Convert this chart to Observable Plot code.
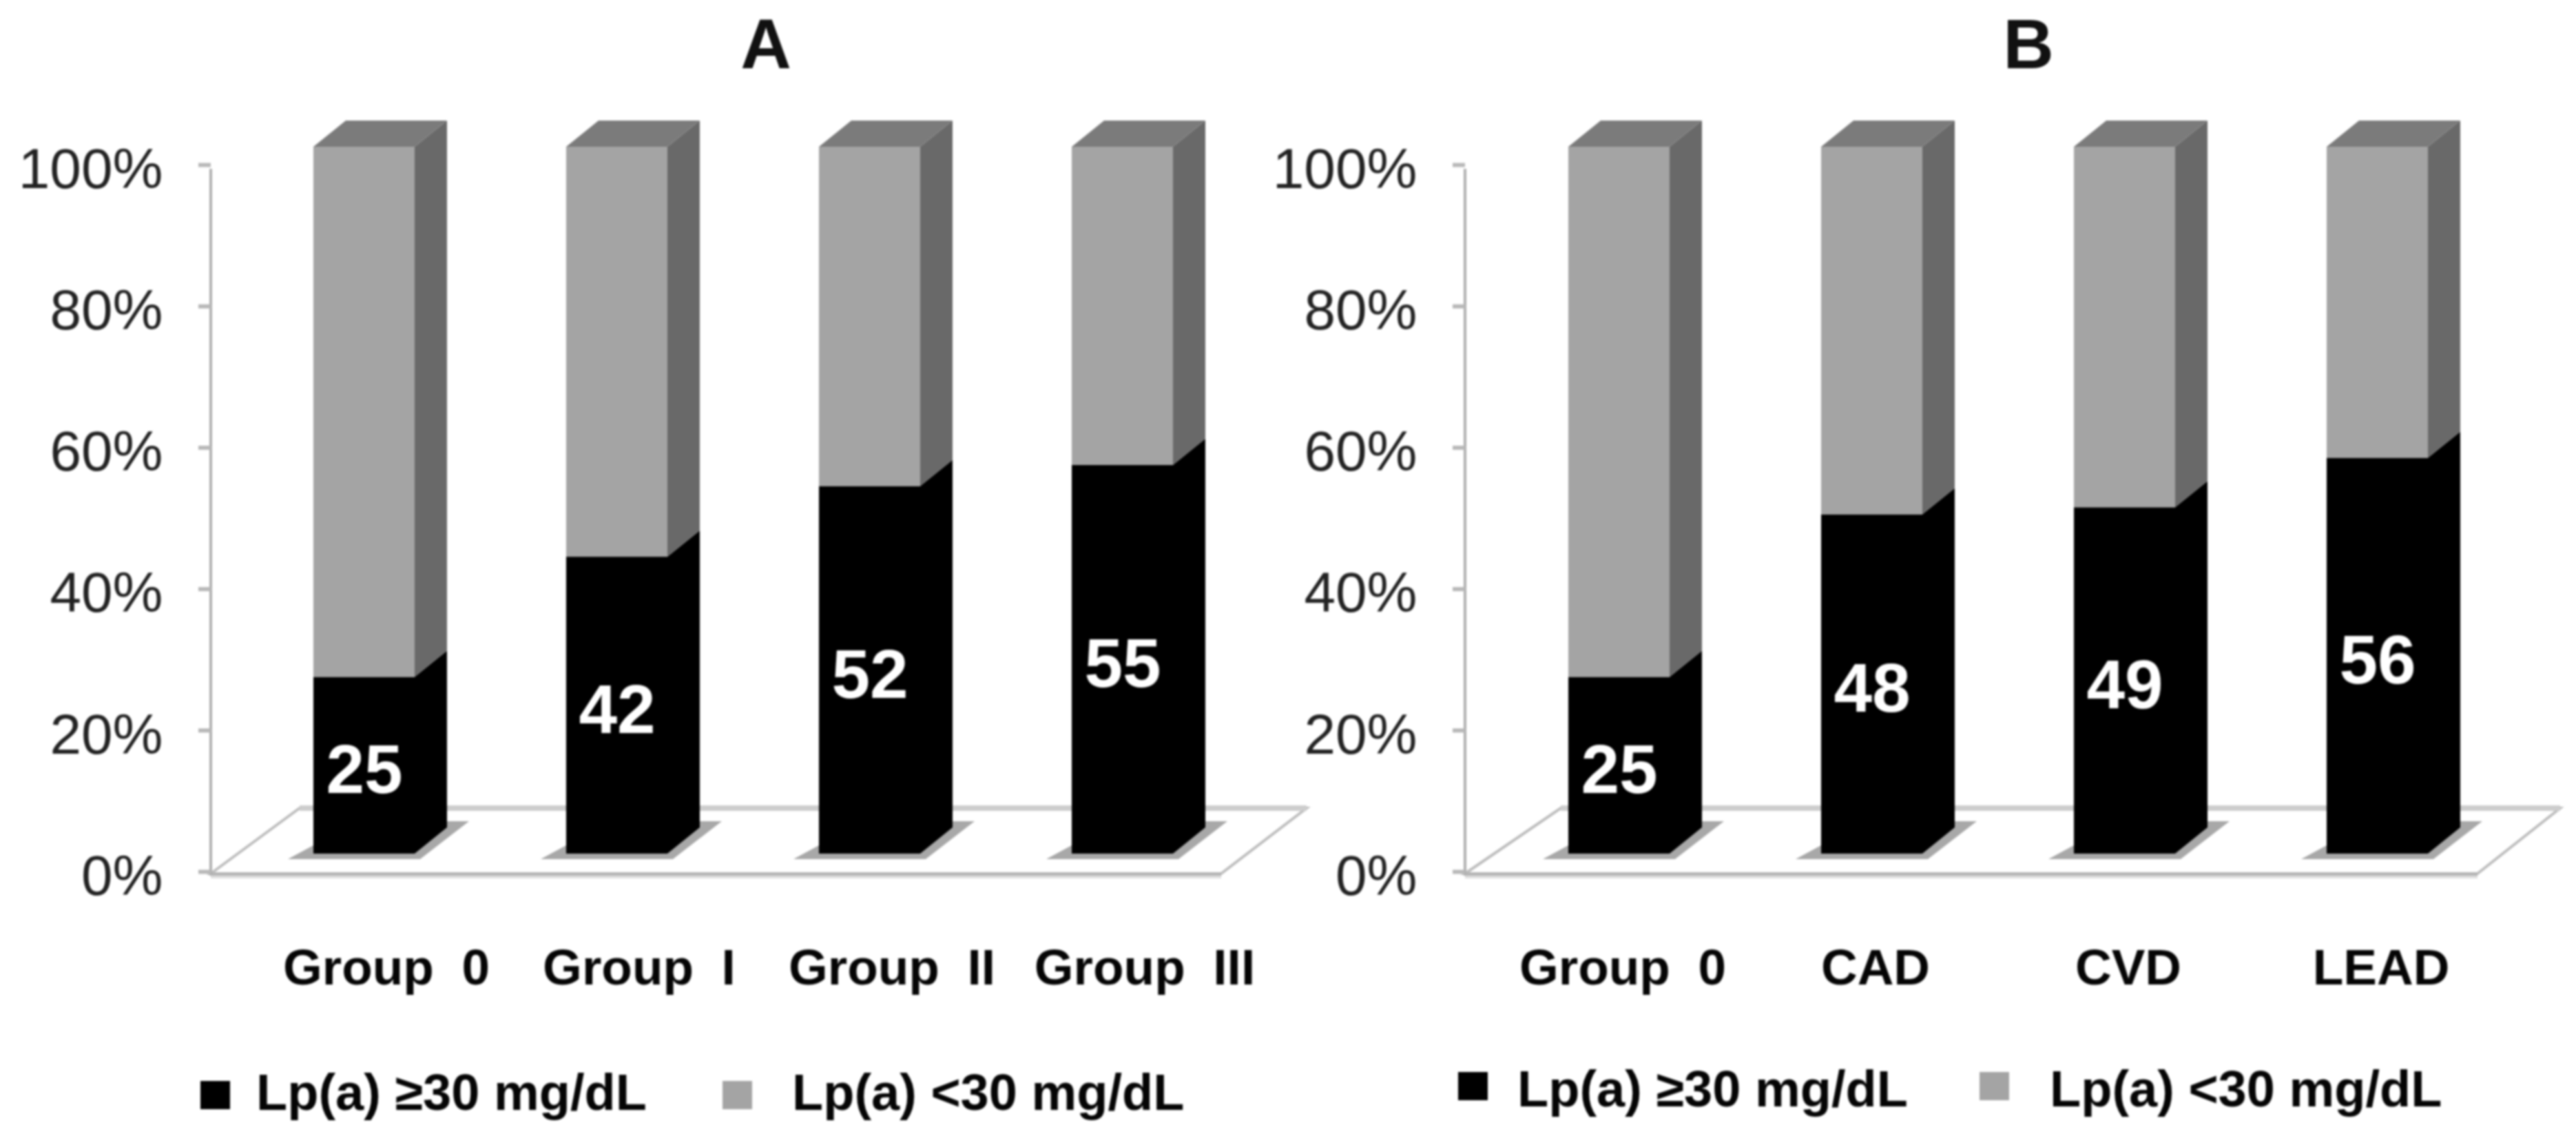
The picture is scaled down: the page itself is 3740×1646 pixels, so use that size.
<!DOCTYPE html>
<html><head><meta charset="utf-8">
<script src="https://cdn.jsdelivr.net/npm/d3@7"></script>
<script src="https://cdn.jsdelivr.net/npm/@observablehq/plot@0.6"></script>
<style>
html,body{margin:0;padding:0;background:#fff;overflow:hidden}
#stage{position:relative;width:3740px;height:1646px;font-family:"Liberation Sans",Arial,sans-serif;filter:blur(1.4px)}
#stage svg{position:absolute;left:0;top:0}
.ttl{position:absolute;font-weight:bold;font-size:102px;color:#111;transform:translate(-50%,-50%)}
.swatch{position:absolute;width:43px;height:41px}
.lg{position:absolute;font-weight:bold;font-size:74px;color:#050505;transform:translateY(-50%);white-space:pre}
</style></head><body><div id="stage"></div>
<script>
const seriesNames = ["Lp(a) ≥30 mg/dL", "Lp(a) <30 mg/dL"];
const panelTitles = ["A", "B"];
const categoriesA = ["Group  0", "Group  I", "Group  II", "Group  III"];
const valuesA = [25, 42, 52, 55];
const categoriesB = ["Group  0", "CAD", "CVD", "LEAD"];
const valuesB = [25, 48, 49, 56];
const yTicks = [0, 20, 40, 60, 80, 100];

const H = 1646, DX = 47, DY = 38;
const front = {"high": "#000000", "low": "#a4a4a4"};
const side = {"high": "#000000", "low": "#696969"};

function rows(cats, vals) {
  return cats.flatMap((c, i) => [
    {cat: c, s: "high", lo: 0, hi: vals[i]},
    {cat: c, s: "low", lo: vals[i], hi: 100}
  ]);
}
function swapRects(pointsOf) {
  return function (index, scales, values, dims, ctx, next) {
    const g = next(index, scales, values, dims, ctx);
    g.querySelectorAll("rect").forEach((r) => {
      const x = +r.getAttribute("x"), y = +r.getAttribute("y"),
            w = +r.getAttribute("width"), h = +r.getAttribute("height");
      const p = document.createElementNS("http://www.w3.org/2000/svg", "polygon");
      p.setAttribute("points", pointsOf(x, y, w, h).map((q) => q.join(",")).join(" "));
      const f = r.getAttribute("fill");
      if (f) p.setAttribute("fill", f);
      r.replaceWith(p);
    });
    return g;
  };
}
const sideFace = swapRects((x, y, w, h) => [[x + w, y], [x + w + DX, y - DY], [x + w + DX, y + h - DY], [x + w, y + h]]);
const topFace = swapRects((x, y, w) => [[x, y], [x + DX, y - DY], [x + w + DX, y - DY], [x + w, y]]);
const shadow = swapRects((x, y, w, h) => {
  const b = y + h;
  return [[x - 37, b + 8], [x + w + 8, b + 8], [x + w + 79, b - 47], [x + w + 47, b - 47], [x + w, b], [x, b], [x, b - 12]];
});

function panel(cats, vals, L) {
  const data = rows(cats, vals);
  return Plot.plot({
    width: 3740, height: H,
    marginLeft: L.axis, marginRight: 0, marginTop: 213, marginBottom: H - 1239,
    style: {background: "transparent", fontFamily: '"Liberation Sans",Arial,sans-serif', overflow: "visible"},
    x: {type: "band", domain: cats, range: L.bars, paddingInner: 0.6, paddingOuter: 0, label: null},
    y: {domain: [0, 100], label: null},
    marks: [
      (i, {y}) => {
        const z = y(0), fy = z + 29, by = z - 66;
        const g = d3.create("svg:g");
        g.append("polygon").attr("points", [[L.axis, fy], [L.floor[0], by], [L.floor[1], by], [L.floor[2], fy]].join(" "))
          .attr("fill", "#fff").attr("stroke", "#bdbdbd").attr("stroke-width", 4);
        g.append("line").attr("x1", L.floor[0]).attr("x2", L.floor[1]).attr("y1", by).attr("y2", by)
          .attr("stroke", "#cdcdcd").attr("stroke-width", 8);
        g.append("line").attr("x1", L.axis).attr("x2", L.floor[2]).attr("y1", fy + 1).attr("y2", fy + 1)
          .attr("stroke", "#b4b4b4").attr("stroke-width", 5);
        g.append("line").attr("x1", L.axis).attr("x2", L.floor[2]).attr("y1", fy + 5).attr("y2", fy + 5)
          .attr("stroke", "#dedede").attr("stroke-width", 4);
        g.append("line").attr("x1", L.axis).attr("x2", L.axis).attr("y1", y(100) + 32).attr("y2", fy + 3)
          .attr("stroke", "#b0b0b0").attr("stroke-width", 4);
        return g.node();
      },
      Plot.axisY({ticks: yTicks, tickFormat: () => "", dy: 26, tickSize: 18, stroke: "#b8b8b8", strokeWidth: 6}),
      Plot.axisY({ticks: yTicks, tickFormat: (d) => d + "%", dy: 33, tickSize: 0, tickPadding: 70,
        fontSize: 82, fill: "#222", textStroke: "none"}),
      Plot.axisX({tickSize: 0, tickPadding: 138, dx: L.labelShift, fontSize: 73, fontWeight: "bold", fill: "#050505"}),
      Plot.barY(data.filter((d) => d.s === "high"), {x: "cat", y1: "lo", y2: "hi", fill: "#a8a8a8", render: shadow}),
      Plot.barY(data, {x: "cat", y1: "lo", y2: "hi", fill: (d) => side[d.s], render: sideFace}),
      Plot.barY(data.filter((d) => d.s === "low"), {x: "cat", y1: "lo", y2: "hi", fill: "#7b7b7b", render: topFace}),
      Plot.barY(data, {x: "cat", y1: "lo", y2: "hi", fill: (d) => front[d.s]}),
      Plot.text(data.filter((d) => d.s === "high"), {x: "cat", y: (d) => d.hi / 2, text: (d) => String(d.hi), dy: 8,
        fill: "#fff", fontSize: 100, fontWeight: "bold"})
    ]
  });
}

const stage = document.getElementById("stage");
stage.append(panel(categoriesA, valuesA, {axis: 306, bars: [453, 1704], floor: [435, 1897, 1773], labelShift: 32}));
stage.append(panel(categoriesB, valuesB, {axis: 2127, bars: [2275, 3526], floor: [2266, 3717, 3597], labelShift: 5}));

function addHtml(cls, text, style) {
  const el = document.createElement("div");
  el.className = cls;
  if (text) el.textContent = text;
  Object.assign(el.style, style);
  stage.append(el);
}
[[1112, panelTitles[0]], [2945, panelTitles[1]]].forEach(([x, t]) =>
  addHtml("ttl", t, {left: x + "px", top: "64px"}));
[
  {sw: [291, 1569], tx: [372, 1585], c: "#000", t: seriesNames[0]},
  {sw: [1049, 1569], tx: [1150, 1585], c: "#a4a4a4", t: seriesNames[1]},
  {sw: [2117, 1556], tx: [2203, 1580], c: "#000", t: seriesNames[0]},
  {sw: [2874, 1556], tx: [2976, 1580], c: "#a4a4a4", t: seriesNames[1]}
].forEach((l) => {
  addHtml("swatch", "", {left: l.sw[0] + "px", top: l.sw[1] + "px", background: l.c});
  addHtml("lg", l.t, {left: l.tx[0] + "px", top: l.tx[1] + "px"});
});
</script></body></html>
